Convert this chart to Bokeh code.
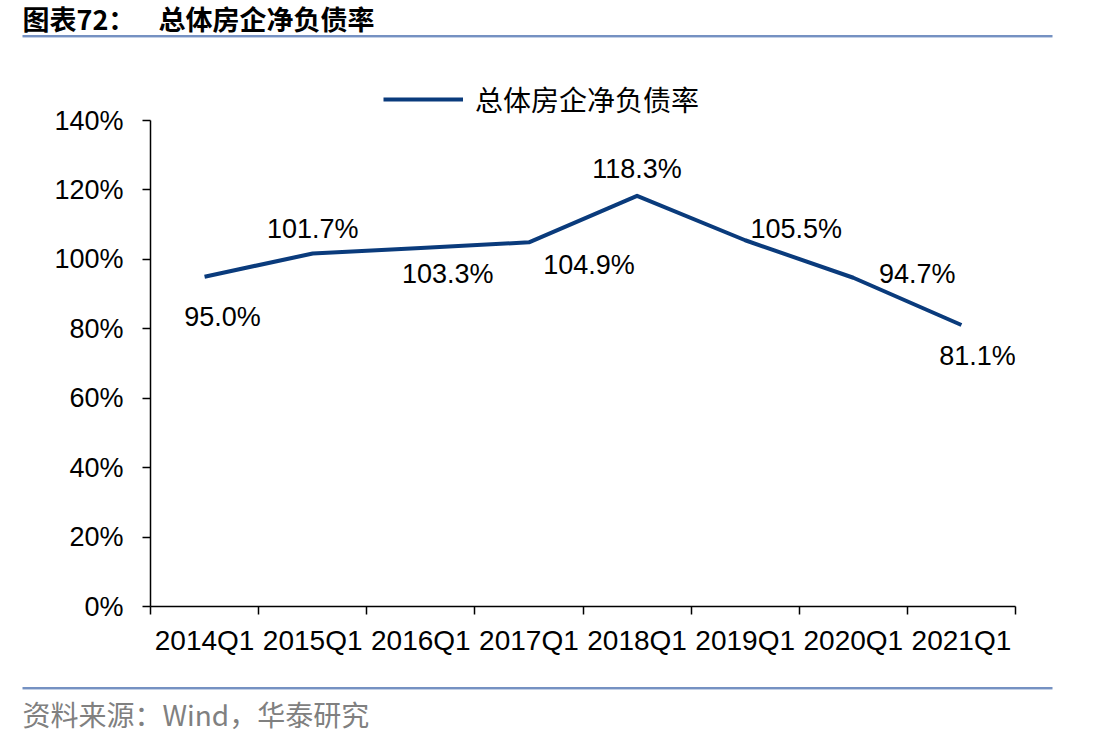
from bokeh.plotting import figure
from bokeh.layouts import column
from bokeh.models import (FixedTicker, Legend, LegendItem, ColumnDataSource,
                          CustomJSTickFormatter, Range1d)
from bokeh.core.properties import value
from bokeh.embed import file_html
from bokeh.resources import INLINE

# Data
quarters = ["2014Q1", "2015Q1", "2016Q1", "2017Q1", "2018Q1", "2019Q1", "2020Q1", "2021Q1"]
net_debt_ratio = [95.0, 101.7, 103.3, 104.9, 118.3, 105.5, 94.7, 81.1]
y_ticks = [0, 20, 40, 60, 80, 100, 120, 140]
series_name = "总体房企净负债率"
title_number = "图表72："
title_name = "总体房企净负债率"
source_text = "资料来源：Wind，华泰研究"

# Label placement (pixel offsets from each point)
label_dx = [18, 0, 27, 60, 0, 51, 64, 16]
label_dy = [40, -24, 26, 23, -27, -11, -4, 31]

LINE_COLOR = "#0a3b7c"
RULE_COLOR = "#7591c2"
RULE_LIGHT = "#c3d0e6"
LATIN = "Liberation Sans"
CJK = "Noto Sans CJK SC"

W = 1111
HEAD_H, MAIN_H, FOOT_H = 40, 640, 62
AXIS_PX = 486          # pixel height of the 0-140% value axis
TOP_PAD_PX = 60        # room above the axis for the legend
Y_MAX = y_ticks[-1]


def no_frame_align(f):
    if "frame_align" in f.properties():
        f.frame_align = False


def blank_panel(height):
    f = figure(width=W, height=height, output_backend="svg", toolbar_location=None,
               x_range=Range1d(0, W), y_range=Range1d(height, 0),
               x_axis_type=None, y_axis_type=None,
               min_border=0, min_border_left=0, min_border_right=0,
               min_border_top=0, min_border_bottom=0)
    f.outline_line_color = None
    f.grid.visible = False
    f.background_fill_color = "white"
    f.border_fill_color = "white"
    no_frame_align(f)
    return f


def rule(f, y):
    f.segment(x0=[22], y0=[y], x1=[1052], y1=[y], line_color=RULE_COLOR, line_width=2)
    f.segment(x0=[22], y0=[y + 1.5], x1=[1052], y1=[y + 1.5], line_color=RULE_LIGHT, line_width=1)


# Header: chart number and name with a rule below
head = blank_panel(HEAD_H)
head.text(x=[22, 158], y=[18, 18], text=[title_number, title_name], text_font=value(CJK),
          text_font_size="27px", text_font_style="bold", text_color="black",
          text_baseline="middle", text_align="left")
rule(head, 35.5)

# Main chart
xs = [i + 0.5 for i in range(len(quarters))]
y_end = Y_MAX * (AXIS_PX + TOP_PAD_PX) / AXIS_PX

p = figure(width=W, height=MAIN_H, output_backend="svg", toolbar_location=None,
           x_range=Range1d(0, len(quarters)), y_range=Range1d(0, y_end),
           min_border_left=150, min_border_right=96,
           min_border_top=MAIN_H - 74 - AXIS_PX - TOP_PAD_PX, min_border_bottom=74)
p.outline_line_color = None
p.grid.visible = False
p.background_fill_color = "white"
p.border_fill_color = "white"
no_frame_align(p)

src = ColumnDataSource(dict(x=xs, y=net_debt_ratio,
                            t=[f"{v:.1f}%" for v in net_debt_ratio],
                            dx=label_dx, dy=label_dy))

r = p.line("x", "y", source=src, line_color=LINE_COLOR, line_width=4, line_join="round")

p.text("x", "y", text="t", source=src, x_offset="dx", y_offset="dy",
       text_align="center", text_baseline="middle",
       text_font=value(LATIN), text_font_size="27px", text_color="black")

# X axis: labels centered in each category, ticks on the boundaries
xa = p.xaxis[0]
xa.ticker = FixedTicker(ticks=xs, minor_ticks=list(range(len(quarters) + 1)))
xa.formatter = CustomJSTickFormatter(args=dict(labels=quarters),
                                     code="return labels[Math.floor(tick)];")
xa.major_tick_line_color = None
xa.minor_tick_line_color = "black"
xa.minor_tick_out = 8
xa.minor_tick_in = 0
xa.minor_tick_line_width = 1.5
xa.axis_line_color = "black"
xa.axis_line_width = 1.5
xa.major_label_text_font = LATIN
xa.major_label_text_font_size = "28px"
xa.major_label_text_color = "black"
xa.major_label_standoff = 10

ya = p.yaxis[0]
ya.ticker = FixedTicker(ticks=y_ticks)
ya.bounds = (0, Y_MAX)
ya.formatter = CustomJSTickFormatter(code="return tick.toFixed(0) + '%';")
ya.major_tick_out = 8
ya.major_tick_in = 0
ya.major_tick_line_width = 1.5
ya.minor_tick_line_color = None
ya.axis_line_width = 1.5
ya.major_label_text_font = LATIN
ya.major_label_text_font_size = "27px"
ya.major_label_text_color = "black"
ya.major_label_standoff = 19

legend = Legend(items=[LegendItem(label=series_name, renderers=[r])],
                location=(233, AXIS_PX + 1), orientation="horizontal",
                glyph_width=80, glyph_height=20, label_standoff=12,
                padding=0, margin=0, border_line_color=None,
                background_fill_alpha=0,
                label_text_font=CJK, label_text_font_size="28px",
                label_text_color="black")
p.add_layout(legend, "center")

# Footer: rule and source note
foot = blank_panel(FOOT_H)
rule(foot, 7.5)
foot.text(x=[22], y=[33], text=[source_text], text_font=value(CJK), text_font_size="28px",
          text_color="#808080", text_baseline="middle", text_align="left")

layout = column(head, p, foot, spacing=0)
open("out.html", "w").write(file_html(layout, INLINE))
